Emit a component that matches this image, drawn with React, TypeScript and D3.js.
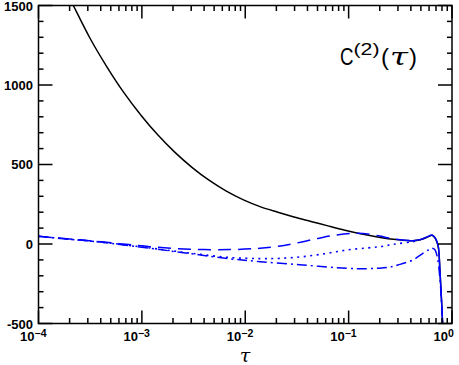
import React from "react";
import * as d3 from "d3";

const W = 459;
const H = 365;

// x ticks (decades)
const X_DECADES = [-4, -3, -2, -1, 0];
// y ticks
const Y_MAJOR = [-500, 0, 500, 1000, 1500];

// Black solid curve
const TAU_BLACK = [2.0e-4, 2.16e-4, 3.15e-4, 4.6e-4, 6.7e-4, 9.8e-4, 1.43e-3, 2.09e-3, 3.05e-3, 4.46e-3, 6.5e-3, 9.5e-3, 1.39e-2, 2.03e-2, 2.96e-2, 4.32e-2, 6.3e-2, 9.2e-2, 0.1345, 0.196, 0.287, 0.419, 0.5, 0.6, 0.635, 0.665, 0.7, 0.736, 0.764, 0.811, 0.84];
const C_BLACK = [1546, 1503, 1294, 1113, 952, 810, 685, 576, 482, 401, 334, 279, 235, 201, 170, 142, 114, 87, 63, 43, 28, 20, 28, 48, 55, 48, 28, -17, -164, -500, -800];

// Blue solid curve (end part)
const TAU_BSOLID = [0.38, 0.419, 0.5, 0.6, 0.635, 0.665, 0.7, 0.736, 0.764, 0.811, 0.84];
const C_BSOLID = [22, 21, 29, 50, 57, 50, 29, -15, -164, -500, -800];

// Blue dashed
const TAU_DASH = [1e-4, 2e-4, 4e-4, 7e-4, 1.2e-3, 2.9e-3, 7.1e-3, 1.39e-2, 2.2e-2, 3.03e-2, 4.72e-2, 7.36e-2, 0.115, 0.16, 0.2, 0.25, 0.3, 0.4];
const C_DASH = [48, 32, 14, -2, -17, -33, -35, -27, -12, 4, 31, 55, 67, 62, 50, 37, 29, 22];

// Blue dotted
const TAU_DOT = [1e-4, 2e-4, 4e-4, 1.2e-3, 2.9e-3, 7.1e-3, 1.39e-2, 2.2e-2, 3.6e-2, 6e-2, 9.57e-2, 0.15, 0.2, 0.25, 0.3, 0.42, 0.5];
const C_DOT = [48, 30, 12, -25, -57, -85, -92, -90, -80, -60, -38, -25, -17, -6, 2, 15, 27];

// Blue dash-dot
const TAU_DD = [1e-4, 2e-4, 4e-4, 1.2e-3, 2.9e-3, 7.1e-3, 1.39e-2, 3.6e-2, 9.57e-2, 0.15, 0.2, 0.25, 0.3, 0.42, 0.526, 0.6, 0.64, 0.68, 0.72, 0.76, 0.8, 0.83];
const C_DD = [48, 30, 12, -27, -60, -93, -111, -132, -153, -155, -152, -145, -132, -100, -58, -35, -27, -35, -80, -200, -420, -700];

const L = 38.5, R = 452, T = 5.5, B = 323.5;

export default function App() {
  const x = d3.scaleLog().domain([1e-4, 1]).range([L, R]);
  const y = d3.scaleLinear().domain([-500, 1500]).range([B, T]);
  const line = d3
    .line<[number, number]>()
    .x((d) => x(d[0]))
    .y((d) => y(d[1]))
    .curve(d3.curveCatmullRom.alpha(0.5));
  const zip = (a: number[], b: number[]) => a.map((t, i) => [t, b[i]] as [number, number]);

  const xMinor: number[] = [];
  for (let e = -4; e < 0; e++) for (let m = 2; m <= 9; m++) xMinor.push(m * Math.pow(10, e));
  const yMinor: number[] = [];
  for (let v = -500; v <= 1500; v += 100) if (v % 500 !== 0) yMinor.push(v);

  const font = "'Liberation Sans', Arial, Helvetica, sans-serif";
  const sw = 1.5;

  return (
    <svg width={W} height={H} style={{ position: "absolute", left: 0, top: 0, background: "#fff" }}>
      <defs>
        <clipPath id="plot">
          <rect x={L} y={T} width={R - L} height={B - T} />
        </clipPath>
      </defs>
      <g clipPath="url(#plot)" fill="none">
        <path d={line(zip(TAU_BLACK, C_BLACK)) || ""} stroke="#000" strokeWidth={1.5} />
        <path d={line(zip(TAU_DASH, C_DASH)) || ""} stroke="#0000ff" strokeWidth={1.5} strokeDasharray="13,7" />
        <path d={line(zip(TAU_DOT, C_DOT)) || ""} stroke="#0000ff" strokeWidth={1.6} strokeDasharray="2,4.5" />
        <path d={line(zip(TAU_DD, C_DD)) || ""} stroke="#0000ff" strokeWidth={1.5} strokeDasharray="10,4,2,4" />
        <path d={line(zip(TAU_BSOLID, C_BSOLID)) || ""} stroke="#0000ff" strokeWidth={1.5} />
      </g>
      {/* frame */}
      <rect x={L} y={T} width={R - L} height={B - T} fill="none" stroke="#000" strokeWidth={sw} />
      {/* x ticks */}
      {X_DECADES.map((e) => {
        const xv = x(Math.pow(10, e));
        return (
          <g key={"xd" + e}>
            <line x1={xv} x2={xv} y1={B} y2={B - 13} stroke="#000" strokeWidth={sw} />
            <line x1={xv} x2={xv} y1={T} y2={T + 13} stroke="#000" strokeWidth={sw} />
          </g>
        );
      })}
      {xMinor.map((t, i) => {
        const xv = x(t);
        return (
          <g key={"xm" + i}>
            <line x1={xv} x2={xv} y1={B} y2={B - 5.5} stroke="#000" strokeWidth={sw} />
            <line x1={xv} x2={xv} y1={T} y2={T + 5.5} stroke="#000" strokeWidth={sw} />
          </g>
        );
      })}
      {/* y ticks */}
      {Y_MAJOR.map((v) => (
        <g key={"ym" + v}>
          <line x1={L} x2={L + 14} y1={y(v)} y2={y(v)} stroke="#000" strokeWidth={sw} />
          <line x1={R} x2={R - 14} y1={y(v)} y2={y(v)} stroke="#000" strokeWidth={sw} />
        </g>
      ))}
      {yMinor.map((v) => (
        <g key={"yn" + v}>
          <line x1={L} x2={L + 5} y1={y(v)} y2={y(v)} stroke="#000" strokeWidth={sw} />
          <line x1={R} x2={R - 5} y1={y(v)} y2={y(v)} stroke="#000" strokeWidth={sw} />
        </g>
      ))}
      {/* y labels */}
      {Y_MAJOR.map((v) => (
        <text
          key={"yl" + v}
          x={33}
          y={v === 1500 ? 11 : v === -500 ? 328.5 : y(v) + 4.7}
          textAnchor="end"
          fontFamily={font}
          fontWeight="bold"
          fontSize={13}
        >
          {String(v)}
        </text>
      ))}
      {/* x labels */}
      {X_DECADES.map((e) => {
        const xv = x(Math.pow(10, e));
        return (
          <g key={"xl" + e} fontFamily={font} fontWeight="bold">
            <text x={xv - 4} y={341} textAnchor="end" fontSize={13}>
              10
            </text>
            <text x={xv - 4} y={336.5} textAnchor="start" fontSize={10.5}>
              {e < 0 ? "\u2212" + Math.abs(e) : String(e)}
            </text>
          </g>
        );
      })}
      {/* x axis title */}
      <text x={245} y={361.5} textAnchor="middle" fontFamily="'DejaVu Serif', serif" fontStyle="italic" fontSize={19}>
        τ
      </text>
      {/* legend label */}
      <g fontFamily={font} fill="#000">
        <text x={340} y={65} fontSize={23} textLength={13.5} lengthAdjust="spacingAndGlyphs">C</text>
        <text x={353.5} y={55} fontSize={16} textLength={26} lengthAdjust="spacingAndGlyphs">(2)</text>
        <text x={381} y={65} fontSize={24}>(</text>
        <text x={390} y={65} fontSize={24} fontFamily="'DejaVu Serif', serif" fontStyle="italic" textLength={18} lengthAdjust="spacingAndGlyphs">τ</text>
        <text x={409} y={65} fontSize={24}>)</text>
      </g>
    </svg>
  );
}
